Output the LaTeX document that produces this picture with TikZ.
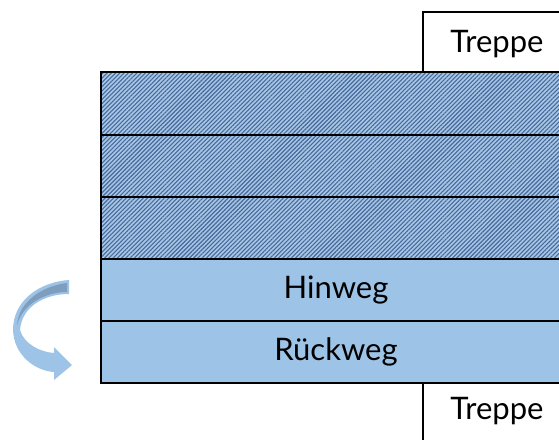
\documentclass[tikz,border=0pt]{standalone}
\usepackage{fontspec}
\setmainfont{Lato}
\usetikzlibrary{patterns.meta}
\definecolor{rowblue}{HTML}{9DC3E6}
\definecolor{hatchbg}{HTML}{A8C6E6}
\definecolor{hatchline}{HTML}{46699A}
\definecolor{arrowdark}{HTML}{7F9DBD}
\tikzset{
  row/.style={draw=black, line width=2.5pt},
  hatched/.style={fill=hatchbg, postaction={pattern={Lines[angle=45,distance=3pt,line width=1.1pt]}, pattern color=hatchline}},
  plain/.style={fill=rowblue},
  label/.style={font=\fontsize{31}{33}\selectfont, text=black, inner sep=0pt},
  frame/.style={draw=black, line width=2.5pt},
}
\begin{document}
\begin{tikzpicture}[x=1pt,y=-1pt]
\useasboundingbox (0,0) rectangle (559,439);
% Treppe top
\draw[frame] (423,72) -- (423,12) -- (562,12);
\node[label] (t1) at (497,44) {Treppe};
% rows
\path[hatched] (101,72) rectangle (562,135);
\path[hatched] (101,135) rectangle (562,197);
\path[hatched] (101,197) rectangle (562,259);
\path[plain] (101,259) rectangle (562,321);
\path[plain] (101,321) rectangle (562,383);
\draw[row] (562,72) -- (101,72) -- (101,383) -- (562,383);
\draw[row] (101,135) -- (562,135);
\draw[row] (101,197) -- (562,197);
\draw[row] (101,259) -- (562,259);
\draw[row] (101,321) -- (562,321);
\node[label] (hin) at (336,290) {Hinweg};
\node[label] (rueck) at (336,352) {Rückweg};
% Treppe bottom
\draw[frame] (423,383) -- (423,442);
\node[label] (t2) at (497,411) {Treppe};
% curved arrow
\fill[rowblue] (69,280) .. controls (40,282) and (13,300) .. (13,330)
  .. controls (14,356) and (36,371) .. (54,372)
  -- (54,380) -- (72,365) -- (54,347) -- (54,353)
  .. controls (40,352) and (24,344) .. (20,330)
  .. controls (22,306) and (45,294) .. (69,294) -- cycle;
\fill[arrowdark] (67,283) .. controls (42,286) and (18,302) .. (17,326)
  .. controls (21,305) and (45,292) .. (67,292) -- cycle;
\end{tikzpicture}
\end{document}
